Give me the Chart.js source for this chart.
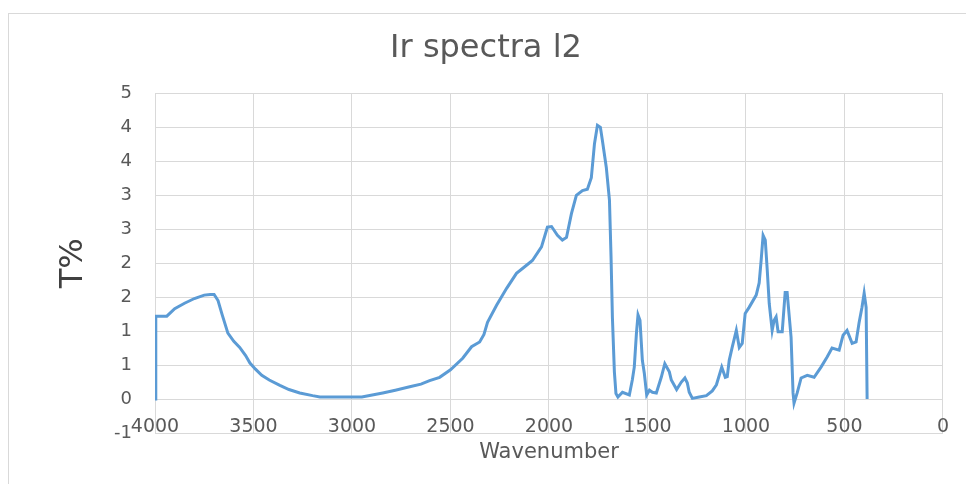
<!DOCTYPE html>
<html>
<head>
<meta charset="utf-8">
<script src="https://cdn.jsdelivr.net/npm/chart.js@4/dist/chart.umd.min.js"></script>
<style>
  html, body { margin: 0; padding: 0; background: #ffffff; }
  #wrap { position: relative; width: 966px; height: 484px; }
  #frame { position: absolute; left: 8px; top: 13px; width: 1000px; height: 500px;
           border-top: 1px solid #d9d9d9; border-left: 1px solid #d9d9d9; pointer-events: none; }
</style>
</head>
<body>
<div id="wrap">
  <canvas id="c" width="966" height="484"></canvas>
  <div id="frame"></div>
</div>
<script>
// Wavenumber (cm-1) and T% values
const wavenumbers = [
  4000, 3996, 3940, 3900, 3850, 3800, 3750, 3720, 3700, 3680, 3660, 3630, 3600, 3570, 3540,
  3518, 3490, 3458, 3420, 3366, 3320, 3265, 3200, 3163, 3100, 3011, 2950, 2844, 2780, 2707,
  2650, 2606, 2555, 2500, 2438, 2393, 2352, 2330, 2312, 2266, 2215, 2165, 2114, 2084, 2038,
  2008, 1987, 1957, 1932, 1911, 1886, 1861, 1830, 1805, 1785, 1769, 1754, 1739, 1729, 1709,
  1693, 1685, 1678, 1668, 1660, 1650, 1627, 1592, 1577, 1567, 1556, 1548, 1538, 1526, 1516,
  1504, 1490, 1475, 1455, 1430, 1412, 1389, 1379, 1352, 1328, 1310, 1298, 1288, 1272, 1237,
  1201, 1171, 1150, 1123, 1105, 1095, 1085, 1070, 1049, 1034, 1019, 1004, 984, 948, 933,
  923, 913, 902, 892, 882, 867, 857, 847, 837, 816, 801, 791, 771, 761, 756,
  740, 720, 689, 654, 619, 588, 563, 527, 507, 487, 461, 441, 426, 411, 400,
  390, 385
];
const transmittance = [
  0, 1.22, 1.22, 1.33, 1.41, 1.48, 1.53, 1.54, 1.54, 1.45, 1.25, 0.97, 0.85, 0.76, 0.64,
  0.53, 0.44, 0.35, 0.28, 0.20, 0.14, 0.09, 0.05, 0.03, 0.03, 0.03, 0.03, 0.09, 0.13, 0.18,
  0.22, 0.27, 0.32, 0.43, 0.60, 0.77, 0.84, 0.95, 1.13, 1.38, 1.63, 1.85, 1.97, 2.04, 2.24,
  2.53, 2.54, 2.41, 2.34, 2.38, 2.73, 3.00, 3.07, 3.09, 3.26, 3.76, 4.03, 4.00, 3.81, 3.41,
  2.93, 2.10, 1.20, 0.40, 0.08, 0.03, 0.10, 0.06, 0.28, 0.47, 0.97, 1.24, 1.16, 0.57, 0.38,
  0.06, 0.13, 0.10, 0.09, 0.32, 0.52, 0.40, 0.28, 0.14, 0.25, 0.31, 0.24, 0.10, 0.01, 0.03,
  0.05, 0.12, 0.21, 0.47, 0.32, 0.33, 0.57, 0.76, 1.01, 0.76, 0.82, 1.26, 1.35, 1.53, 1.71,
  2.04, 2.41, 2.34, 1.90, 1.41, 1.01, 1.16, 1.21, 0.99, 0.99, 1.57, 1.57, 0.91, 0.09, -0.06,
  0.09, 0.31, 0.35, 0.32, 0.47, 0.62, 0.75, 0.72, 0.94, 1.01, 0.82, 0.84, 1.12, 1.35, 1.56,
  1.35, 0
];
const xTickValues = [0, 500, 1000, 1500, 2000, 2500, 3000, 3500, 4000];
const xTickLabels = ['0', '500', '1000', '1500', '2000', '2500', '3000', '3500', '4000'];
const yTickLabels = ['-1', '0', '1', '1', '2', '2', '3', '3', '4', '4', '5'];

const points = wavenumbers.map((w, i) => ({ x: w, y: transmittance[i] }));
const GRID = '#d9d9d9';
const TXT = '#595959';

new Chart(document.getElementById('c'), {
  type: 'scatter',
  data: {
    datasets: [{
      data: points,
      showLine: true,
      borderColor: '#5b9bd5',
      borderWidth: 3,
      pointRadius: 0,
      tension: 0,
      fill: false
    }]
  },
  options: {
    responsive: false,
    animation: false,
    layout: { padding: { left: 6, right: 0, top: 20, bottom: 51 } },
    plugins: {
      legend: { display: false },
      tooltip: { enabled: false },
      title: {
        display: true,
        text: 'Ir spectra l2',
        color: TXT,
        font: { family: 'DejaVu Sans', size: 32, weight: 'normal' },
        padding: { top: 9, bottom: 26 }
      }
    },
    scales: {
      x: {
        type: 'linear',
        position: { y: 0 },
        min: 0,
        max: 4000,
        reverse: true,
        grid: { color: GRID, lineWidth: 1, drawTicks: false },
        border: { display: true, color: GRID },
        ticks: {
          stepSize: 500,
          padding: 17,
          color: TXT,
          font: { family: 'DejaVu Sans', size: 19 },
          maxRotation: 0,
          callback: (v) => {
            const k = xTickValues.indexOf(v);
            return k >= 0 ? xTickLabels[k] : '';
          }
        },
        title: {
          display: true,
          text: 'Wavenumber',
          color: TXT,
          font: { family: 'DejaVu Sans', size: 21 },
          padding: { top: -16, bottom: 0 }
        }
      },
      y: {
        type: 'linear',
        position: 'left',
        min: -0.5,
        max: 4.5,
        afterFit: (s) => { s.width = 149; },
        grid: { color: GRID, lineWidth: 1, drawTicks: false },
        border: { display: false },
        ticks: {
          stepSize: 0.5,
          padding: 23,
          color: TXT,
          font: { family: 'DejaVu Sans', size: 18 },
          callback: (v, i) => yTickLabels[i]
        },
        title: {
          display: true,
          text: 'T%',
          color: '#404040',
          font: { family: 'DejaVu Sans', size: 32 },
          padding: { top: 48, bottom: 0 }
        }
      },
      yRight: {
        type: 'linear',
        position: 'right',
        min: 0,
        max: 1,
        afterFit: (s) => { s.width = 22; },
        grid: { display: false, drawTicks: false },
        border: { display: false },
        ticks: { display: false },
        title: { display: false }
      }
    }
  }
});
</script>
</body>
</html>
